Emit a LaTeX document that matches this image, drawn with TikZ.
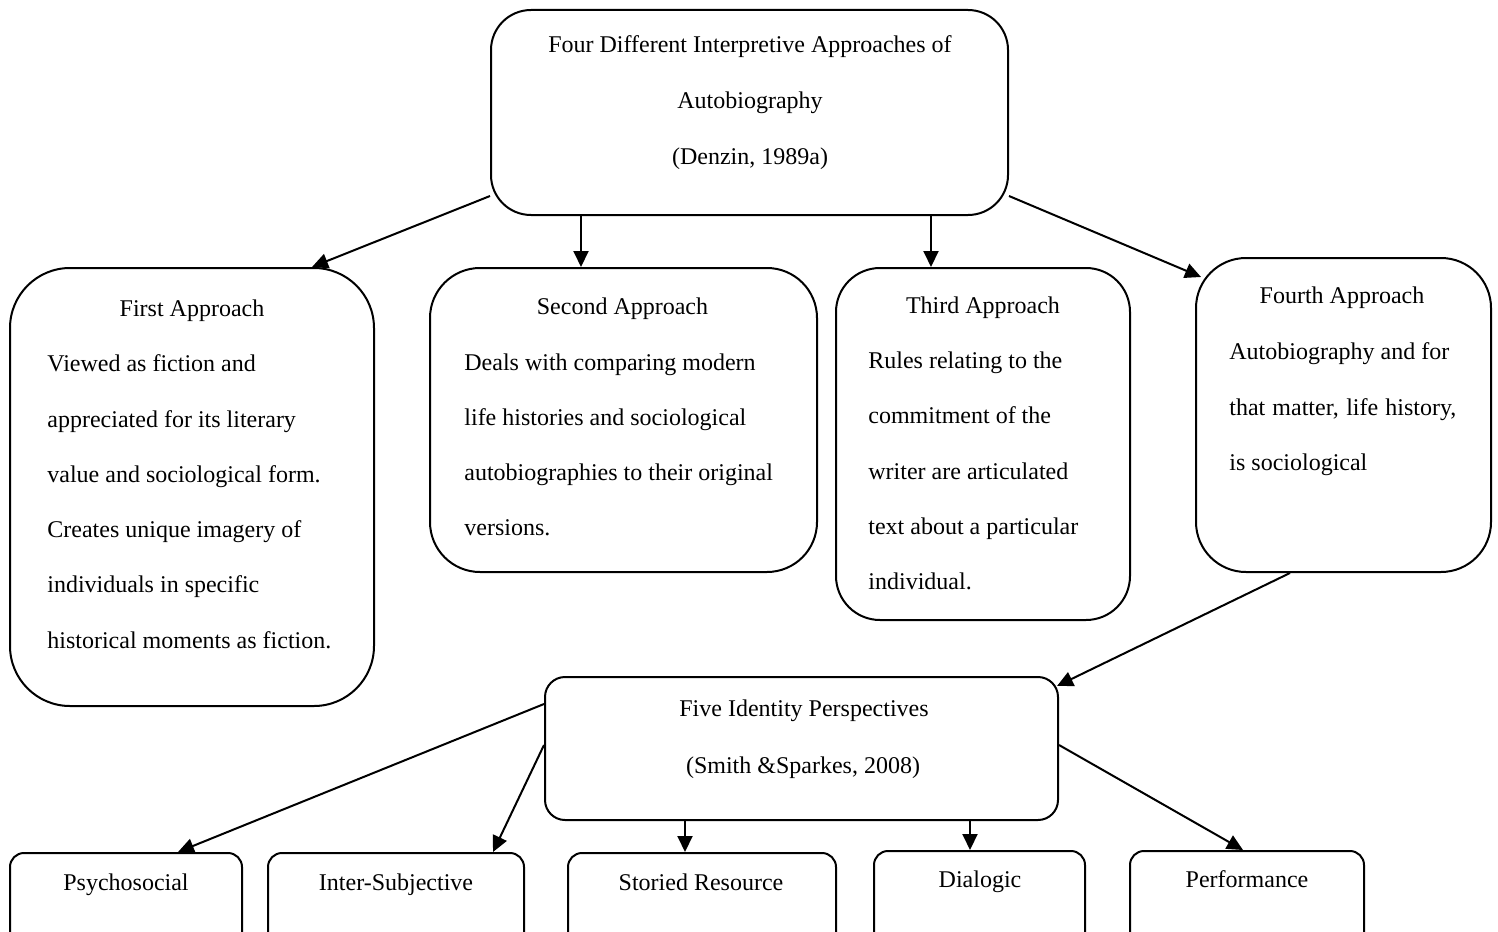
\documentclass[tikz,border=0pt]{standalone}
\usepackage{fontspec}
\setmainfont{Liberation Serif}
\usetikzlibrary{arrows.meta,calc}
\begin{document}
\begin{tikzpicture}[x=0.5pt,y=-0.5pt,
  box/.style={draw,line width=1pt,inner sep=0pt,rounded corners=#1},
  box/.default=10pt,
  lbl/.style={inner sep=0pt,anchor=mid,yshift=-2pt,font=\fontsize{12pt}{14pt}\selectfont},
  lbll/.style={lbl,anchor=mid west},
  arr/.style={line width=1pt,-{Triangle[length=8pt,width=7.5pt]}}]
\useasboundingbox (0,0) rectangle (1498,931);
\clip (0,0) rectangle (1498,931);

% boxes
\node[box=20pt,minimum width=258.5pt,minimum height=102.5pt] (top) at (749.5,112.5) {};
\node[box=30pt,minimum width=182pt,minimum height=219pt] (first) at (192,487) {};
\node[box=25pt,minimum width=193.5pt,minimum height=152pt] (second) at (623.5,420) {};
\node[box=22pt,minimum width=147pt,minimum height=176pt] (third) at (983,444) {};
\node[box=25pt,minimum width=147.5pt,minimum height=157pt] (fourth) at (1343.5,415) {};
\node[box=10pt,minimum width=256.5pt,minimum height=71.5pt] (five) at (801.5,748.5) {};
\node[box=7pt,minimum width=116pt,minimum height=53.5pt] (psy) at (126,906.5) {};
\node[box=7pt,minimum width=128pt,minimum height=53.5pt] (inter) at (396,906.5) {};
\node[box=7pt,minimum width=134pt,minimum height=53.5pt] (stor) at (702,906.5) {};
\node[box=7pt,minimum width=105.5pt,minimum height=53.5pt] (dia) at (979.5,904.5) {};
\node[box=7pt,minimum width=117pt,minimum height=53.5pt] (perf) at (1247,904.5) {};

% texts of the top box
\node[lbl] (t1) at (750,44) {Four Different Interpretive Approaches of};
\node[lbl] (t2) at (750,100) {Autobiography};
\node[lbl] (t3) at (750,156) {(Denzin, 1989a)};

% first approach
\node[lbl] (a0) at (192,308) {First Approach};
\node[lbll] (a1) at (47,363) {Viewed as fiction and};
\node[lbll] (a2) at (47,419) {appreciated for its literary};
\node[lbll] (a3) at (47,474) {value and sociological form.};
\node[lbll] (a4) at (47,529) {Creates unique imagery of};
\node[lbll] (a5) at (47,584) {individuals in specific};
\node[lbll] (a6) at (47,640) {historical moments as fiction.};

% second approach
\node[lbl] (b0) at (622.5,306) {Second Approach};
\node[lbll] (b1) at (464,362) {Deals with comparing modern};
\node[lbll] (b2) at (464,417) {life histories and sociological};
\node[lbll] (b3) at (464,472) {autobiographies to their original};
\node[lbll] (b4) at (464,527) {versions.};

% third approach
\node[lbl] (c0) at (983,305) {Third Approach};
\node[lbll] (c1) at (868,360) {Rules relating to the};
\node[lbll] (c2) at (868,415) {commitment of the};
\node[lbll] (c3) at (868,471) {writer are articulated};
\node[lbll] (c4) at (868,526) {text about a particular};
\node[lbll] (c5) at (868,581) {individual.};

% fourth approach
\node[lbl] (d0) at (1342,295) {Fourth Approach};
\node[lbll] (d1) at (1229,351) {Autobiography and for};
\node[lbll] (d2) at (1229,407) {\makebox[113.5pt][s]{that matter, life history,}};
\node[lbll] (d3) at (1229,462) {is sociological};

% identity perspectives
\node[lbl] (e1) at (804,708) {Five Identity Perspectives};
\node[lbl] (e2) at (803,765) {(Smith \&Sparkes, 2008)};

% bottom row
\node[lbl] (f1) at (126,882) {Psychosocial};
\node[lbl] (f2) at (396,882) {Inter-Subjective};
\node[lbl] (f3) at (701,882) {Storied Resource};
\node[lbl] (f4) at (980,879) {Dialogic};
\node[lbl] (f5) at (1247,879) {Performance};

% connectors
\draw[arr] (top.west |- 0,196) -- (312,0 |- first.north);
\draw[arr] (581,0 |- top.south) -- (581,0 |- second.north);
\draw[arr] (931,0 |- top.south) -- (931,0 |- third.north);
\draw[arr] (top.east |- 0,196) -- ($(fourth.north west)+(6,20)$);
\draw[arr] (1290,0 |- fourth.south) -- ($(five.north east)+(-2,10)$);
\draw[arr] (five.west |- 0,704) -- (178,0 |- psy.north);
\draw[arr] (five.west |- 0,745) -- (493,0 |- inter.north);
\draw[arr] (685,0 |- five.south) -- (685,0 |- stor.north);
\draw[arr] (970,0 |- five.south) -- (970,0 |- dia.north);
\draw[arr] (five.east |- 0,745) -- (1243,0 |- perf.north);
\end{tikzpicture}
\end{document}
